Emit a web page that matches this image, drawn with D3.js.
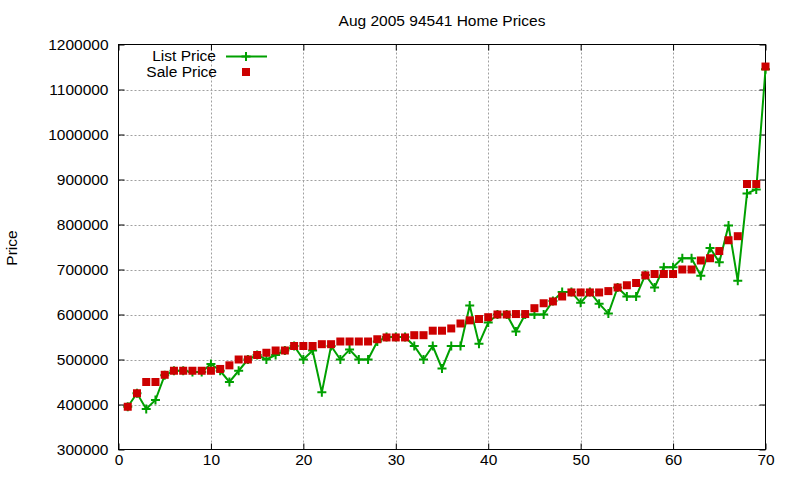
<!DOCTYPE html>
<html>
<head>
<meta charset="utf-8">
<script src="https://cdn.jsdelivr.net/npm/d3@7"></script>
<style>
  html, body { margin: 0; padding: 0; background: #fff; }
  text { font-family: "Liberation Sans", Arial, sans-serif; fill: #000; }
</style>
</head>
<body>
<svg id="chart" width="800" height="480"></svg>
<script>
const title = "Aug 2005 94541 Home Prices";
const yLabel = "Price";
const seriesNames = ["List Price", "Sale Price"];
const xTicks = [0, 10, 20, 30, 40, 50, 60, 70];
const yTicks = [300000, 400000, 500000, 600000, 700000, 800000, 900000, 1000000, 1100000, 1200000];

const listPrice = [
  395000, 425000, 390000, 410000, 465000, 475000, 475000, 472000, 472000, 490000,
  475000, 450000, 475000, 500000, 510000, 500000, 510000, 520000, 530000, 500000,
  520000, 427000, 530000, 500000, 522000, 500000, 500000, 540000, 550000, 550000,
  550000, 530000, 500000, 530000, 480000, 530000, 530000, 620000, 535000, 582000,
  600000, 600000, 562000, 600000, 600000, 600000, 630000, 650000, 650000, 626000,
  650000, 624000, 602000, 660000, 640000, 640000, 688000, 660000, 705000, 705000,
  725000, 725000, 686000, 748000, 716000, 798000, 675000, 869000, 878000, 1145000
];
const salePrice = [
  395000, 425000, 450000, 450000, 466000, 475000, 475000, 475000, 475000, 475000,
  479000, 487000, 500000, 500000, 510000, 515000, 520000, 520000, 530000, 530000,
  530000, 534000, 534000, 540000, 540000, 540000, 540000, 545000, 549000, 549000,
  549000, 554000, 554000, 564000, 564000, 569000, 580000, 587000, 590000, 594000,
  600000, 600000, 601000, 601000, 614000, 625000, 629000, 640000, 649000, 649000,
  649000, 649000, 652000, 660000, 665000, 670000, 687000, 690000, 690000, 690000,
  700000, 700000, 720000, 725000, 741000, 765000, 774000, 890000, 890000, 1151000
];

const svg = d3.select("#chart");
const L = 118.5, R = 765.5, T = 44.5, B = 449.5;
const x = d3.scaleLinear().domain([0, 70]).range([L, R]);
const y = d3.scaleLinear().domain([300000, 1200000]).range([B, T]);
const green = "#00a000", red = "#cc0000";
const fs = "15.5px";

svg.append("rect").attr("width", 800).attr("height", 480).attr("fill", "#fff");

// grid
const grid = svg.append("g").attr("stroke", "#a0a0a0").attr("stroke-width", 1).attr("stroke-dasharray", "2,2");
xTicks.filter(t => t > 0 && t < 70).forEach(t => {
  grid.append("line").attr("x1", Math.round(x(t)) + 0.5).attr("x2", Math.round(x(t)) + 0.5).attr("y1", T).attr("y2", B);
});
yTicks.filter(t => t > 300000 && t < 1200000).forEach(t => {
  grid.append("line").attr("y1", Math.round(y(t)) + 0.5).attr("y2", Math.round(y(t)) + 0.5).attr("x1", L).attr("x2", R);
});

// axes with inward ticks
const tk = 6;
const axB = svg.append("g").attr("transform", `translate(0,${B})`)
  .call(d3.axisBottom(x).tickValues(xTicks).tickSizeInner(-tk).tickSizeOuter(0).tickPadding(tk + 6));
const axT = svg.append("g").attr("transform", `translate(0,${T})`)
  .call(d3.axisTop(x).tickValues(xTicks).tickSizeInner(-tk).tickSizeOuter(0).tickFormat(""));
const axL = svg.append("g").attr("transform", `translate(${L},0)`)
  .call(d3.axisLeft(y).tickValues(yTicks).tickSizeInner(-tk).tickSizeOuter(0).tickPadding(tk + 4).tickFormat(d3.format("d")));
const axR = svg.append("g").attr("transform", `translate(${R},0)`)
  .call(d3.axisRight(y).tickValues(yTicks).tickSizeInner(-tk).tickSizeOuter(0).tickFormat(""));
[axB, axT, axL, axR].forEach(a => {
  a.select(".domain").remove();
  a.selectAll("line").attr("stroke", "#000");
  a.selectAll("text").style("font-size", fs).style("font-family", "'Liberation Sans', Arial, sans-serif").attr("fill", "#000");
});
axB.selectAll("text").attr("dy", "0.2em");

svg.append("rect").attr("x", L).attr("y", T).attr("width", R - L).attr("height", B - T)
  .attr("fill", "none").attr("stroke", "#000").attr("stroke-width", 1);

// title and label
svg.append("text").attr("x", (L + R) / 2).attr("y", 26).attr("text-anchor", "middle").style("font-size", fs).text(title);
svg.append("text").attr("transform", "translate(17,248) rotate(-90)").attr("text-anchor", "middle").style("font-size", fs).text(yLabel);

// list price line
const idx = d3.range(1, listPrice.length + 1);
const line = d3.line().x(d => x(d[0])).y(d => y(d[1]));
svg.append("path").datum(idx.map(i => [i, listPrice[i - 1]]))
  .attr("d", line).attr("fill", "none").attr("stroke", green).attr("stroke-width", 2).attr("stroke-linejoin", "miter");

const ps = 4.5;
function plus(g, cx, cy) {
  g.append("path").attr("d", `M${cx - ps},${cy}H${cx + ps}M${cx},${cy - ps}V${cy + ps}`)
    .attr("stroke", green).attr("stroke-width", 2).attr("fill", "none");
}
const plusG = svg.append("g");
idx.forEach(i => plus(plusG, x(i), y(listPrice[i - 1])));

// sale price squares
const sq = 8;
svg.append("g").selectAll("rect").data(idx).join("rect")
  .attr("x", i => x(i) - sq / 2).attr("y", i => y(salePrice[i - 1]) - sq / 2)
  .attr("width", sq).attr("height", sq).attr("fill", red);

// legend
const lg = svg.append("g");
lg.append("text").attr("x", 216).attr("y", 61).attr("text-anchor", "end").style("font-size", fs).text(seriesNames[0]);
lg.append("text").attr("x", 217).attr("y", 77).attr("text-anchor", "end").style("font-size", fs).text(seriesNames[1]);
lg.append("line").attr("x1", 226).attr("x2", 267).attr("y1", 56.5).attr("y2", 56.5).attr("stroke", green).attr("stroke-width", 2);
plus(lg, 246, 56.5);
lg.append("rect").attr("x", 246 - sq / 2).attr("y", 72 - sq / 2).attr("width", sq).attr("height", sq).attr("fill", red);
</script>
</body>
</html>
